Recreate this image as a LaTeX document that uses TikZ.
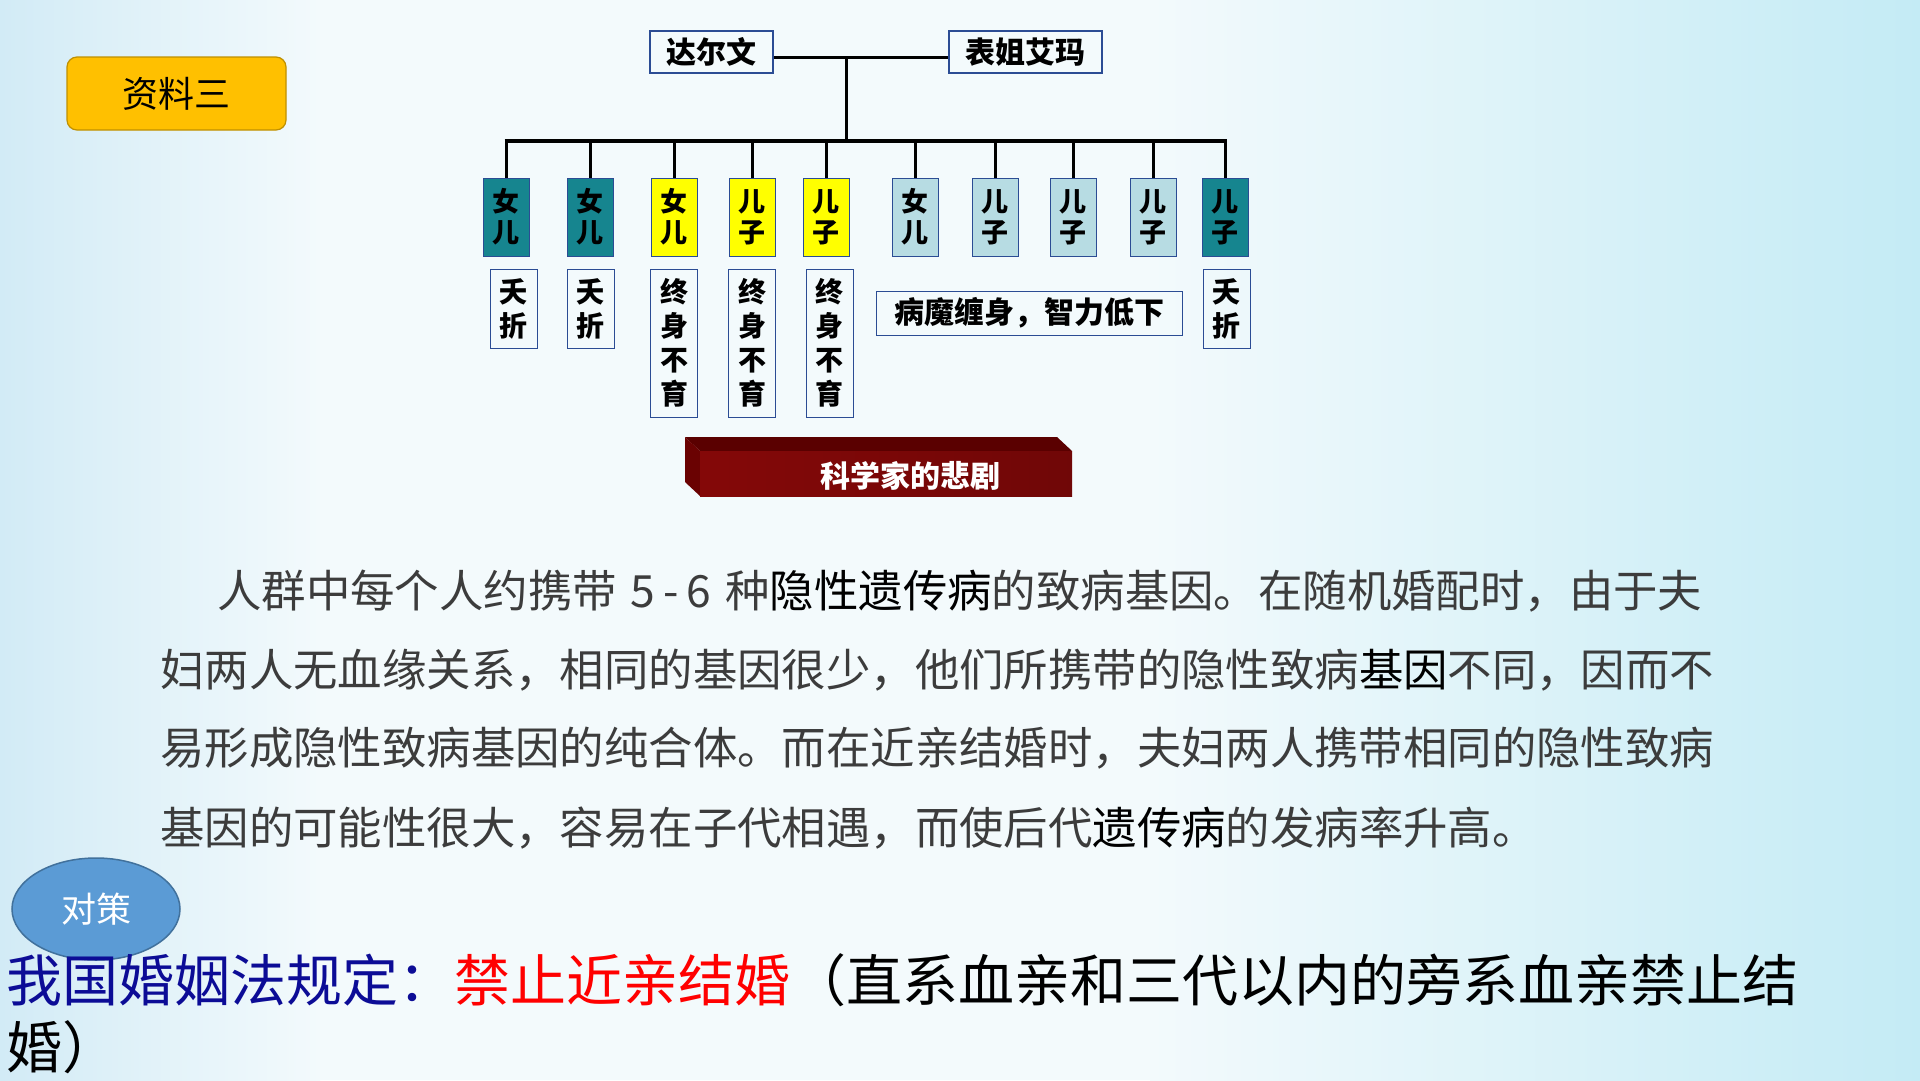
\documentclass[tikz,border=0pt]{standalone}
\usepackage{fontspec}
\setmainfont{Noto Sans CJK SC}
\newfontfamily\cjk{Noto Sans CJK SC}
\usetikzlibrary{shapes.geometric}
\definecolor{bgL}{HTML}{D2EBF6}
\definecolor{bgM}{HTML}{F3FAFC}
\definecolor{bgR}{HTML}{C4EBF5}
\definecolor{boxblue}{HTML}{2B4C94}
\definecolor{tealk}{HTML}{16858F}
\definecolor{yel}{HTML}{FFFF00}
\definecolor{lblue}{HTML}{B7DCE3}
\definecolor{banTop}{HTML}{5A0000}
\definecolor{banLeft}{HTML}{6A0202}
\definecolor{banFront}{HTML}{840808}
\definecolor{paragray}{HTML}{3C3C3C}
\definecolor{lawblue}{HTML}{0C0C96}
\definecolor{ellfill}{HTML}{5B9BD5}
\definecolor{elldraw}{HTML}{41719C}
\definecolor{goldf}{HTML}{FFC000}
\definecolor{goldd}{HTML}{BF9000}
\tikzset{
  parentbox/.style={draw=boxblue, line width=1.2pt, inner sep=0pt, minimum height=42pt,
    font=\cjk\bfseries\fontsize{30}{30}\selectfont},
  kidbox/.style={draw=boxblue, line width=1pt, inner sep=0pt, minimum width=46pt, minimum height=78pt,
    align=center, font=\cjk\bfseries\fontsize{27}{31}\selectfont},
  fatebox/.style={draw=boxblue, line width=1pt, inner sep=0pt, minimum width=47pt,
    align=center, font=\cjk\bfseries\fontsize{28}{34}\selectfont},
  tieline/.style={line width=3pt, black},
  barline/.style={line width=4pt, black},
  paraline/.style={anchor=west, inner sep=0pt, text=paragray, font=\cjk\fontsize{44.4}{44.4}\selectfont},
  lawline/.style={anchor=west, inner sep=0pt, font=\cjk\fontsize{56}{56}\selectfont},
}
\begin{document}
\begin{tikzpicture}[x=1pt,y=-1pt]
\useasboundingbox (0,0) rectangle (1920,1080);
% background
\fill[bgM] (0,0) rectangle (1920,1080);
\shade[left color=bgL, right color=bgM] (0,0) rectangle (320,1080);
\shade[left color=bgM, right color=bgR] (1150,0) rectangle (1920,1080);

% label box
\node[rectangle, rounded corners=10pt, draw=goldd, fill=goldf, line width=1.2pt,
      minimum width=219pt, minimum height=73pt, inner sep=0pt,
      font=\cjk\fontsize{36}{36}\selectfont] (zl) at (176.5,93.5) {资料三};

% parents
\node[parentbox, minimum width=123pt] (p1) at (711.5,52) {达尔文};
\node[parentbox, minimum width=153pt] (p2) at (1025.5,52) {表姐艾玛};
\coordinate (mid) at (846,57);
\coordinate (bar) at (846,141);
\draw[tieline] (p1.east |- mid) -- (p2.west |- mid);
\draw[tieline] (mid) -- (bar);

% children
\foreach \x/\c/\a/\b [count=\i] in {506/tealk/女/儿, 590/tealk/女/儿, 674/yel/女/儿, 752/yel/儿/子,
    826/yel/儿/子, 915/lblue/女/儿, 995/lblue/儿/子, 1073/lblue/儿/子, 1153/lblue/儿/子, 1225/tealk/儿/子}{
  \node[kidbox, fill=\c] (k\i) at (\x,217) {\a\\\b};
}
\draw[barline] ([xshift=-1.5pt]k1.north |- bar) -- ([xshift=1.5pt]k10.north |- bar);
\foreach \i in {1,...,10}{
  \draw[tieline] (k\i.north |- bar) -- (k\i.north);
}

% fates
\node[fatebox, minimum height=79pt] (f1) at (513.5,308.5) {夭\\折};
\node[fatebox, minimum height=79pt] (f2) at (590.5,308.5) {夭\\折};
\node[fatebox, minimum height=148pt] (f3) at (674,343) {终\\身\\不\\育};
\node[fatebox, minimum height=148pt] (f4) at (752,343) {终\\身\\不\\育};
\node[fatebox, minimum height=148pt] (f5) at (829.5,343) {终\\身\\不\\育};
\node[fatebox, minimum width=306pt, minimum height=44pt, font=\cjk\bfseries\fontsize{30}{30}\selectfont] (f6) at (1029,313) {病魔缠身，智力低下};
\node[fatebox, minimum height=79pt] (f10) at (1226.5,308.5) {夭\\折};

% banner
\fill[banTop] (685,437) -- (1057,437) -- (1072,451) -- (700,451) -- cycle;
\fill[banLeft] (685,437) -- (700,451) -- (700,496) -- (685,482) -- cycle;
\shade[left color=banFront, right color=banFront!85!black] (700,451) rectangle (1072,496);
\node[inner sep=0pt, text=white, font=\cjk\bfseries\fontsize{30}{30}\selectfont] (ban) at (910,476) {科学家的悲剧};

% paragraph
\node[paraline] (l1) at (217,591) {人群中每个人约携带\hspace{14pt}5\hspace{8pt}-\hspace{8pt}6\hspace{14pt}种\textcolor{black}{隐性遗传病}的致病基因。在随机婚配时，由于夫};
\node[paraline] (l2) at (160,670) {妇两人无血缘关系，相同的基因很少，他们所携带的隐性致病\textcolor{black}{基因}不同，因而不};
\node[paraline] (l3) at (160,748) {易形成隐性致病基因的纯合体。而在近亲结婚时，夫妇两人携带相同的隐性致病};
\node[paraline] (l4) at (160,828) {基因的可能性很大，容易在子代相遇，而使后代\textcolor{black}{遗传病}的发病率升高。};

% countermeasure ellipse
\node[ellipse, draw=elldraw, fill=ellfill, line width=1.5pt, minimum width=168pt, minimum height=102pt,
      inner sep=0pt, text=white, font=\cjk\fontsize{35}{35}\selectfont] (ds) at (96,909) {对策};

% law text
\node[lawline] (m1) at (6,980) {\textcolor{lawblue}{我国婚姻法规定：}\textcolor{red}{禁止近亲结婚}\textcolor{black}{（直系血亲和三代以内的旁系血亲禁止结}};
\node[lawline] (m2) at (6,1047) {婚）};
\end{tikzpicture}
\end{document}
